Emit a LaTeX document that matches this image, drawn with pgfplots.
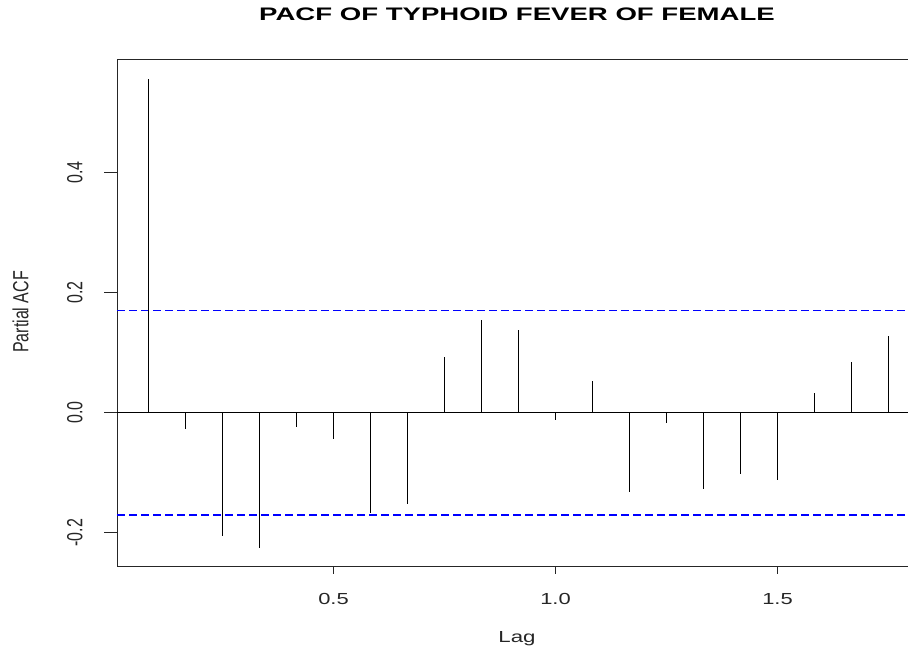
\documentclass[border=0pt]{standalone}
\usepackage{pgfplots}
\pgfplotsset{compat=1.18}
\usepackage{fontspec}
\setmainfont{Liberation Sans}
\pgfplotstableread{
lag pacf
0.08333 0.556
0.16667 -0.027
0.25000 -0.205
0.33333 -0.225
0.41667 -0.024
0.50000 -0.044
0.58333 -0.168
0.66667 -0.153
0.75000 0.092
0.83333 0.154
0.91667 0.137
1.00000 -0.012
1.08333 0.052
1.16667 -0.133
1.25000 -0.018
1.33333 -0.127
1.41667 -0.103
1.50000 -0.112
1.58333 0.033
1.66667 0.084
1.75000 0.127
}\pacf
\begin{document}
\begin{tikzpicture}
\useasboundingbox (0,0) rectangle (681pt,486pt);
\begin{axis}[
  at={(88pt,61.3pt)}, anchor=south west,
  scale only axis, width=593pt, height=379.7pt,
  xmin=0.0131, xmax=1.7939, ymin=-0.256, ymax=0.5878,
  axis lines=left,
  axis line style={-, line width=0.75pt, black!85},
  major tick length=0pt,
  ticklabel style={font=\fontsize{12}{14}\selectfont, text=black!85},
  xticklabel style={yshift=-16.7pt},
  yticklabel style={xshift=-22.5pt},
  xtick={0.5,1,1.5},
  xticklabels={\scalebox{1.37}[1]{0.5},\scalebox{1.37}[1]{1.0},\scalebox{1.37}[1]{1.5}},
  ytick={-0.2,0,0.2,0.4},
  yticklabels={\scalebox{1.37}[1]{\rotatebox{90}{-0.2}},\scalebox{1.37}[1]{\rotatebox{90}{0.0}},\scalebox{1.37}[1]{\rotatebox{90}{0.2}},\scalebox{1.37}[1]{\rotatebox{90}{0.4}}},
  clip=false,
]
\addplot[black, line width=0.75pt, forget plot] coordinates {(0.0131,0) (1.7939,0)};
\addplot[blue, line width=0.9pt, dash pattern=on 6pt off 3pt] coordinates {(0.0131,0.1706) (1.7939,0.1706)};
\addplot[blue, line width=0.9pt, dash pattern=on 6pt off 3pt] coordinates {(0.0131,-0.1706) (1.7939,-0.1706)};
\addplot[ycomb, black, line width=0.8pt, no marks] table[x=lag, y=pacf] {\pacf};
\end{axis}
\draw[line width=0.9pt, black!85] (250.1pt,61.3pt) -- (250.1pt,55.3pt);
\draw[line width=0.9pt, black!85] (416.6pt,61.3pt) -- (416.6pt,55.3pt);
\draw[line width=0.9pt, black!85] (583.1pt,61.3pt) -- (583.1pt,55.3pt);
\draw[line width=0.9pt, black!85] (88pt,86.5pt) -- (78pt,86.5pt);
\draw[line width=0.9pt, black!85] (88pt,176.5pt) -- (78pt,176.5pt);
\draw[line width=0.9pt, black!85] (88pt,266.5pt) -- (78pt,266.5pt);
\draw[line width=0.9pt, black!85] (88pt,356.5pt) -- (78pt,356.5pt);
\draw[line width=0.75pt, black!85] (88pt,441pt) -- (681pt,441pt);
\node[anchor=base, font=\bfseries\fontsize{13.6}{16}\selectfont] at (387.75pt,470.25pt) {\scalebox{1.52}[1]{PACF OF TYPHOID FEVER OF FEMALE}};
\node[anchor=base, font=\fontsize{12}{14}\selectfont, text=black!85] at (387.75pt,3.75pt) {\scalebox{1.39}[1]{Lag}};
\node[font=\fontsize{12}{14}\selectfont, text=black!85] at (15.4pt,252pt) {\scalebox{1.37}[1]{\rotatebox{90}{Partial ACF}}};
\end{tikzpicture}
\end{document}
